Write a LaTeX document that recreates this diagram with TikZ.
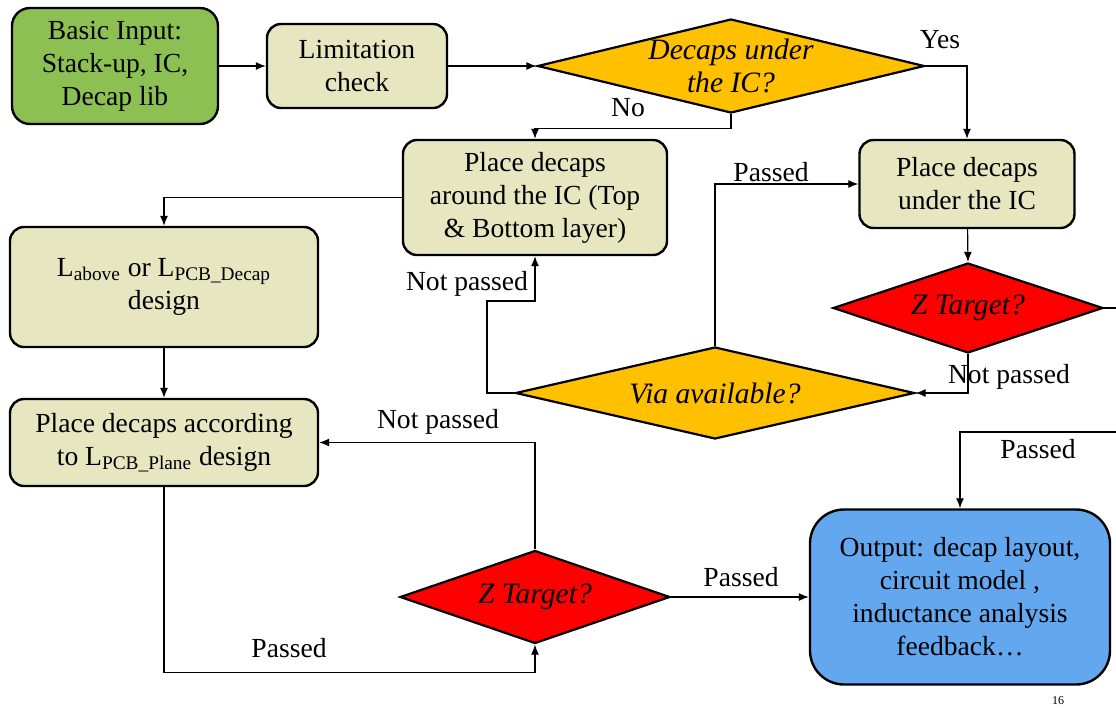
\documentclass[tikz,border=0pt]{standalone}
\usepackage{fontspec}
\setmainfont{Liberation Serif}
\usetikzlibrary{shapes.geometric,arrows.meta}

\definecolor{inputgreen}{RGB}{141,192,82}
\definecolor{stepbeige}{RGB}{230,230,192}
\definecolor{askgold}{RGB}{255,192,0}
\definecolor{askred}{RGB}{255,0,0}
\definecolor{outblue}{RGB}{99,167,239}

\newcommand{\flowfont}{\fontsize{13.8}{16.5}\selectfont}
\newcommand{\askfont}{\fontsize{14.8}{16.5}\selectfont\itshape}

\tikzset{
  box/.style={draw,line width=1.2pt,rounded corners=7pt,fill=stepbeige,align=center},
  ask/.style={draw,diamond,line width=1.1pt,inner sep=-4pt,font=\askfont,align=center},
  arr/.style={-{Latex[length=5pt,width=4pt]},line width=0.6pt},
}

\begin{document}
\begin{tikzpicture}[x=0.5pt,y=-0.5pt,every node/.style={font=\flowfont}]
\useasboundingbox (0,0) rectangle (1116,708);

% top row
\node[box,fill=inputgreen,rounded corners=9pt,minimum width=103pt,minimum height=58pt] (basic) at (115,66) {Basic Input:\\Stack-up, IC,\\Decap lib};
\node[box,minimum width=90pt,minimum height=42pt] (limit) at (357,66) {Limitation\\check};
\node[ask,fill=askgold,aspect=4.1,minimum width=193.5pt,minimum height=47pt] (decap) at (731,66) {Decaps under\\the IC?};

% placement steps
\node[box,minimum width=132pt,minimum height=57.5pt] (around) at (535,197.5) {Place decaps\\around the IC (Top\\\& Bottom layer)};
\node[box,minimum width=107.5pt,minimum height=44pt] (under) at (967,184) {Place decaps\\under the IC};
\node[box,minimum width=154pt,minimum height=60pt] (lab) at (164,287) {L\textsubscript{above} or L\textsubscript{PCB\_Decap}\\design};
\node[box,minimum width=154pt,minimum height=43.5pt] (accord) at (164,442.5) {Place decaps according\\to L\textsubscript{PCB\_Plane} design};

% checks
\node[ask,fill=askred,aspect=3,minimum width=135pt,minimum height=45pt] (zup) at (968,308) {Z Target?};
\node[ask,fill=askgold,aspect=4.3,minimum width=199.5pt,minimum height=46pt] (via) at (715,393) {Via available?};
\node[ask,fill=askred,aspect=3,minimum width=135pt,minimum height=46.5pt] (zlow) at (535,597) {Z Target?};

% result
\node[box,fill=outblue,rounded corners=17pt,minimum width=150pt,minimum height=87.5pt] (out) at (960,597) {Output: decap layout,\\circuit model ,\\inductance analysis\\feedback…};

\coordinate (viaturn) at (487,301);
\coordinate (zupend) at (1130,308);
\coordinate (outfeed) at (1130,432);

% connectors
\draw[arr] (basic) -- (limit);
\draw[arr] (limit) -- (decap.west);
\draw[arr] (decap.east) -| (under.north);
\draw[arr] (decap.south) -- ++(0,14) -| (around.north);
\draw[arr] (around.west) -| (lab.north);
\draw[arr] (lab) -- (accord);
\draw[arr] (accord.south) -- ++(0,185) -| (zlow.south);
\draw[arr] (zlow.north) |- (accord.east);
\draw[arr] (zlow.east) -- (out.west);
\draw[arr] (under) -- (zup.north);
\draw[arr] (zup.south) |- (via.east);
\draw[arr] (via.north) |- (under.west);
\draw[arr] (via.west) -| (viaturn) -| (around.south);
\draw[line width=0.6pt] (zup.east) -- (zupend);
\draw[arr] (outfeed) -| (out.north);

% branch labels
\node (yes) at (940,40) {Yes};
\node (no) at (628,108) {No};
\node (viapass) at (771,172) {Passed};
\node (vianot) at (467,284) {Not passed};
\node (zupnot) at (1009,377) {Not passed};
\node (zlownot) at (438,422) {Not passed};
\node (zlowpass) at (741,577) {Passed};
\node (accpass) at (289,648) {Passed};
\node (outpass) at (1038,449) {Passed};
\node[font=\fontsize{6}{7}\selectfont] (page) at (1058,701) {16};
\end{tikzpicture}
\end{document}
